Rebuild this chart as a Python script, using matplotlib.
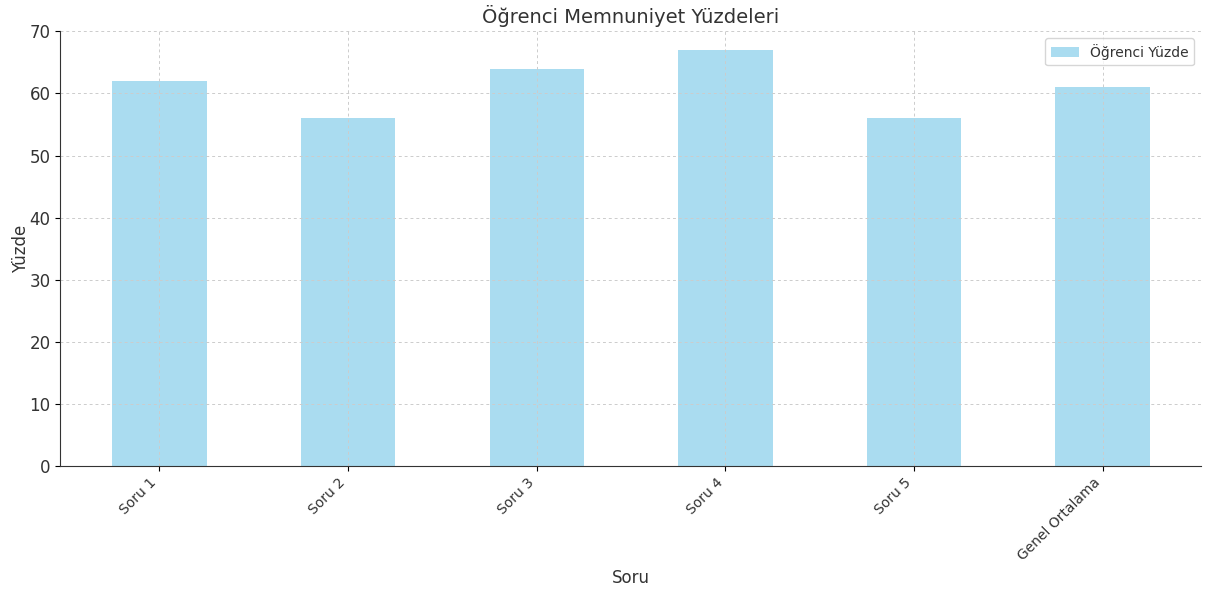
import matplotlib
matplotlib.use("Agg")
import matplotlib.pyplot as plt
import pandas as pd

questions = ["Soru 1", "Soru 2", "Soru 3", "Soru 4", "Soru 5", "Genel Ortalama"]
percentages = [62, 56, 64, 67, 56, 61]

df = pd.DataFrame({"Öğrenci Yüzde": percentages}, index=questions)

fig, ax = plt.subplots(figsize=(12.08, 5.9), dpi=100)
df.plot(kind="bar", ax=ax, color="skyblue", alpha=0.7, width=0.5)

ax.set_title("Öğrenci Memnuniyet Yüzdeleri", fontsize=14, color="#333333")
ax.set_xlabel("Soru", fontsize=12, color="#333333")
ax.set_ylabel("Yüzde", fontsize=12, color="#333333", labelpad=0)
ax.set_ylim(0, 70)
ax.set_xlim(-0.525, 5.52)
plt.xticks(rotation=45, ha="right", fontsize=10, color="#333333")
plt.yticks(fontsize=12, color="#333333")
ax.grid(True, linestyle=(0, (3, 3)), color="#cccccc", linewidth=0.7)
ax.spines["top"].set_visible(False)
ax.spines["right"].set_visible(False)
ax.spines["left"].set_color("#333333")
ax.spines["bottom"].set_color("#333333")
leg = ax.legend(loc="upper right", fontsize=10)
for t in leg.get_texts():
    t.set_color("#333333")

plt.subplots_adjust(left=0.05, right=0.994, top=0.947, bottom=0.21)
plt.savefig("out.png", dpi=100)
